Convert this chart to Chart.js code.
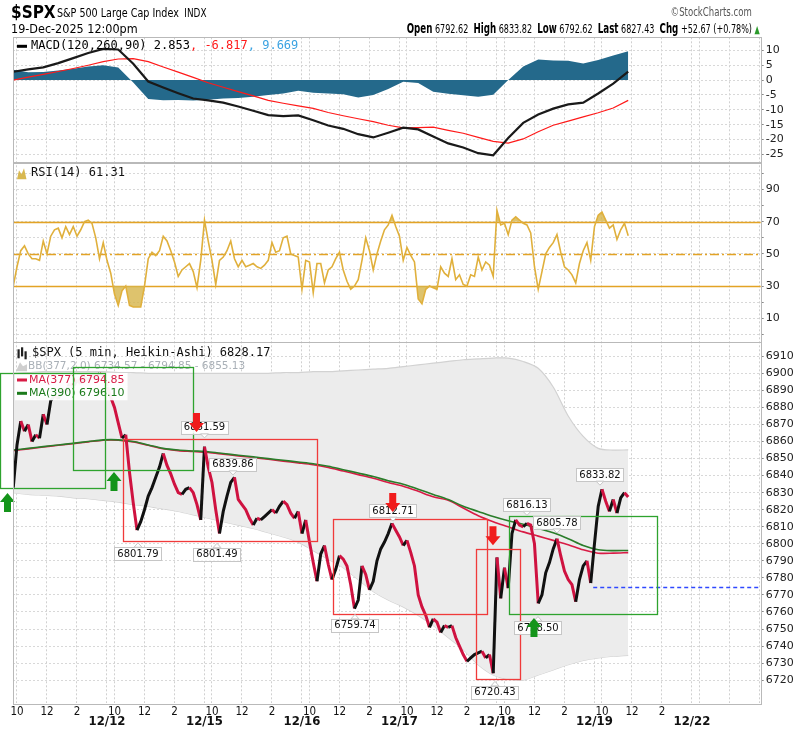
<!DOCTYPE html>
<html lang="en">
<head>
<meta charset="utf-8" />
<title>$SPX 5 min Heikin-Ashi</title>
<script src="https://cdn.jsdelivr.net/npm/chart.js"></script>
<style>
  html, body { margin: 0; padding: 0; background: #fff; }
  .wrap { position: relative; width: 804px; height: 731px; overflow: hidden; }
  #chart { position: absolute; left: 0; top: 0; }
  .head { position: absolute; white-space: nowrap; color: #000;
          font-family: 'Liberation Sans Narrow', 'Arial Narrow', 'DejaVu Sans Condensed', sans-serif; }
  .sym { left: 11px; top: 2px; }
  .sym b { font-size: 17px; margin-right: 3px; }
  .title { left: 57px; top: 5px; font-size: 13px; transform: scaleX(0.82); transform-origin: left center; }
  .title .ex { font-size: 12px; margin-left: 3px; }
  .brand { right: 52px; top: 4px; font-size: 12.5px; color: #555; transform: scaleX(0.76); transform-origin: right center; }
  .stamp { left: 11px; top: 21px; font-size: 13px; transform: scaleX(0.96); transform-origin: left center; }
  .ohlc { right: 44px; top: 20px; font-size: 13px; transform: scaleX(0.69); transform-origin: right center; }
  .ohlc b { font-size: 14px; }
  .ohlc .up { color: #2a9a2a; font-size: 11px; }
</style>
</head>
<body>
<div class="wrap">
  <canvas id="chart" width="804" height="731"></canvas>
  <div class="head sym"><b>$SPX</b></div>
  <div class="head title">S&amp;P 500 Large Cap Index <span class="ex">INDX</span></div>
  <div class="head brand">©StockCharts.com</div>
  <div class="head stamp">19-Dec-2025 12:00pm</div>
  <div class="head ohlc"><b>Open</b> 6792.62 &nbsp;<b>High</b> 6833.82 &nbsp;<b>Low</b> 6792.62 &nbsp;<b>Last</b> 6827.43 &nbsp;<b>Chg</b> +52.67 (+0.78%) <span class="up">▲</span></div>
</div>
<script>
// ---- time axis -------------------------------------------------------
const BARS_PER_DAY = 78;                 // 5-min bars, 09:30 - 16:00
const days = ['12/11', '12/12', '12/15', '12/16', '12/17', '12/18', '12/19', '12/22'];
const hourLabels = ['10', '12', '2'];
const hourMinutesAfterOpen = [30, 150, 270];

// ---- $SPX closes, every 15 min (12/11 starts 09:45, others 09:30) ----
const spx1211 = [6833, 6858, 6872, 6866, 6870, 6860, 6864, 6862, 6876, 6870, 6884, 6887, 6885,
                 6891, 6889, 6894, 6892, 6896, 6894, 6898, 6896, 6899, 6897, 6900, 6898];
const spx1212 = [6893, 6886, 6880, 6871, 6862, 6864, 6842, 6824, 6808, 6813, 6820, 6828, 6833,
                 6839, 6845, 6853, 6846, 6841, 6835, 6830, 6829, 6832, 6833, 6830, 6823, 6814];
const spx1215 = [6857, 6845, 6836, 6820, 6806, 6819, 6828, 6836, 6839, 6826, 6823, 6820, 6815,
                 6811, 6815, 6814, 6816, 6818, 6820, 6818, 6822, 6825, 6823, 6818, 6815, 6819];
const spx1216 = [6806, 6814, 6801, 6789, 6778, 6794, 6799, 6788, 6779, 6785, 6793, 6791, 6787,
                 6776, 6762, 6767, 6787, 6782, 6773, 6778, 6790, 6797, 6801, 6806, 6812, 6808];
const spx1217 = [6804, 6799, 6802, 6795, 6787, 6770, 6763, 6758, 6751, 6756, 6754, 6748, 6752,
                 6751, 6752, 6745, 6740, 6735, 6731, 6733, 6735, 6736, 6737, 6733, 6735, 6724];
const spx1218 = [6792, 6768, 6786, 6774, 6806, 6814, 6811, 6810, 6812, 6811, 6800, 6765, 6770,
                 6783, 6789, 6797, 6803, 6793, 6784, 6779, 6776, 6766, 6779, 6787, 6790, 6777];
const spx1219 = [6800, 6822, 6832, 6825, 6819, 6826, 6818, 6827, 6830, 6827.43];
const spxSessions = [spx1211, spx1212, spx1215, spx1216, spx1217, spx1218, spx1219];
const sessionFirstSlot = [1, 0, 0, 0, 0, 0, 0];

// ---- RSI(14), every 15 min ---------------------------------------------
const rsi1211 = [30, 42, 52, 55, 50, 47, 47, 46, 58, 50, 61, 65, 66, 60, 67, 62, 67, 61, 65, 70, 71, 69, 60, 47, 57];
const rsi1212 = [46, 38, 25, 18, 27, 30, 18, 17, 17, 17, 30, 47, 51, 49, 52, 61, 58, 52, 45, 36, 40, 42, 44, 39, 29, 46];
const rsi1215 = [71, 58, 46, 31, 46, 48, 52, 58, 47, 42, 46, 42, 43, 44, 42, 41, 43, 46, 57, 51, 52, 60, 61, 50, 49, 48];
const rsi1216 = [28, 46, 45, 26, 44, 44, 32, 40, 42, 47, 51, 40, 33, 28, 30, 34, 46, 60, 52, 40, 50, 58, 65, 68, 74, 67];
const rsi1217 = [61, 46, 54, 49, 45, 22, 19, 28, 30, 29, 28, 42, 38, 36, 47, 34, 37, 31, 30, 37, 36, 48, 40, 45, 43, 36];
const rsi1218 = [77, 68, 69, 62, 71, 73, 71, 69, 68, 63, 42, 28, 39, 50, 54, 57, 62, 51, 42, 40, 37, 32, 44, 52, 57, 46];
const rsi1219 = [67, 74, 76, 71, 66, 68, 59, 65, 69, 61.31];
const rsiSessions = [rsi1211, rsi1212, rsi1215, rsi1216, rsi1217, rsi1218, rsi1219];
const rsiLevels = [70, 50, 30];

// ---- hourly indicator samples (from 12/11 09:45, one per trading hour) -
const HOURLY_START_BAR = 3, HOURLY_STEP_BARS = 12;
const macdLine = [2.8, 3.6, 4.3, 5.7, 7.4, 9.1, 10.5, 10.3, 5.5, -0.5, -2.5, -4.4, -6.2, -6.8,
  -7.6, -8.9, -10.3, -11.8, -12.1, -11.9, -13.5, -15.3, -16.4, -18.2, -19.3, -17.7, -16.0, -16.6,
  -19.0, -21.3, -22.7, -24.6, -25.3, -19.5, -14.4, -11.6, -9.6, -8.2, -7.6, -4.5, -1.2, 2.853];
const macdSignal = [0.0, 1.0, 1.9, 2.9, 3.9, 5.0, 6.2, 7.1, 7.2, 6.2, 4.4, 2.7, 0.9, -0.9,
  -2.4, -3.9, -5.3, -6.8, -7.8, -8.7, -9.5, -10.9, -12.0, -13.0, -14.0, -15.2, -16.1, -16.0,
  -15.8, -16.9, -17.9, -19.3, -20.6, -21.2, -19.8, -17.4, -15.2, -13.8, -12.4, -11.0, -9.4, -6.817];
const macdHist = [3.5, 2.6, 2.7, 3.2, 3.8, 4.6, 5.0, 4.2, -0.8, -6.4, -6.8, -6.7, -6.9, -6.6,
  -6.2, -6.0, -5.6, -5.0, -4.5, -3.6, -4.3, -4.5, -4.8, -5.9, -5.0, -3.0, -0.6, -1.0,
  -3.9, -4.6, -5.1, -5.6, -4.9, 0.0, 4.6, 6.9, 6.6, 6.5, 5.6, 6.8, 8.3, 9.669];
const bbUpper = [6900, 6900.5, 6901, 6901, 6901, 6901, 6901, 6900.5, 6900.5, 6900, 6900, 6900, 6900, 6900,
  6900, 6900, 6900, 6900, 6900.5, 6900.5, 6901, 6901, 6901.5, 6902, 6902.5, 6903, 6904, 6905,
  6906, 6907, 6908, 6908.5, 6909, 6909, 6907, 6903, 6892, 6875, 6863, 6856, 6855, 6855.13];
const bbLower = [6830, 6829, 6828.5, 6828, 6827, 6826.5, 6825.5, 6824.5, 6823, 6822, 6820.5, 6819, 6817, 6815,
  6813, 6811, 6809, 6806.5, 6804, 6801, 6796, 6791, 6786, 6779, 6772, 6767, 6763, 6758,
  6752, 6745, 6738, 6729, 6723, 6720.5, 6720, 6723, 6726, 6729, 6731.5, 6733, 6734, 6734.57];
const ma377 = [6854.6, 6855.7, 6856.8, 6857.8, 6858.8, 6859.8, 6860.8, 6860.8, 6859.8, 6857.8, 6855.8, 6854.7, 6854.2, 6853.6,
  6852.6, 6851.6, 6850.6, 6849.6, 6848.5, 6847.5, 6846.4, 6844.8, 6842.7, 6840.6, 6838.5, 6836, 6833.8, 6830.8,
  6827.6, 6825.5, 6821, 6816.5, 6813, 6810, 6807, 6804.5, 6802, 6799.5, 6796.5, 6794.5, 6794.5, 6794.85];
const ma390 = [6855, 6856, 6857, 6858, 6859, 6860, 6861, 6861, 6860, 6858, 6856, 6855, 6854.5, 6854,
  6853, 6852, 6851, 6850, 6849, 6848, 6847, 6845.5, 6843.5, 6841.5, 6839.5, 6837, 6835, 6832,
  6829, 6826, 6822, 6819, 6816, 6813.5, 6811.5, 6809, 6806.5, 6803, 6799, 6796.5, 6796, 6796.1];

// ---- chart annotations (bar index, price) ------------------------------
const greenBoxes = [[-8, 76.4, 6833, 6900.5], [50.8, 146.8, 6843, 6903.7], [399.6, 518.2, 6758.5, 6816.13]];
const redBoxes = [[90.6, 246.2, 6801.79, 6861.59], [259, 382.2, 6758.3, 6814.3], [373.2, 408.4, 6720.43, 6797]];
const buySignals = [[-1.6, 6829.8], [83.6, 6842.1], [419.6, 6756.5]];
const sellSignals = [[149.6, 6865.6], [306.6, 6818.7], [386.8, 6799.1]];
const peakLabels = [[156, 6861.59, 'above'], [178.8, 6839.86, 'above'], [102.8, 6801.79, 'below'],
  [166, 6801.49, 'below'], [306.8, 6812.71, 'above'], [276.4, 6759.74, 'below'], [388.4, 6720.43, 'below'],
  [414, 6816.13, 'above'], [438, 6805.78, 'above'], [422.8, 6758.50, 'below'], [472.4, 6833.82, 'above']];
const prevClose = [467, 6774.76];

// ---- build points ------------------------------------------------------
function sessionPoints(sessions) {
  const pts = [];
  sessions.forEach((vals, d) => {
    vals.forEach((v, i) => pts.push({ x: d * BARS_PER_DAY + (sessionFirstSlot[d] + i) * 3, y: v }));
  });
  return pts;
}
const hourly = (arr) => arr.map((v, k) => ({ x: HOURLY_START_BAR + k * HOURLY_STEP_BARS, y: v }));

const xTicks = [];
const dateTickValues = new Set();
days.forEach((d, i) => {
  const start = i * BARS_PER_DAY;
  xTicks.push({ value: start, label: ['', d] });
  dateTickValues.add(start);
  hourLabels.forEach((h, j) => {
    xTicks.push({ value: start + hourMinutesAfterOpen[j] / 5, label: i < spxSessions.length ? h : '' });
  });
});
const xLabelMap = new Map(xTicks.map(t => [t.value, t.label]));

const X_MIN = 2.8, X_MAX = 601;
const UP = '#111111', DOWN = '#cf1240';
const NARROW = "'Liberation Sans Narrow', 'Arial Narrow', 'DejaVu Sans Condensed', sans-serif";

// ---- drawing helpers ---------------------------------------------------
function arrow(ctx, x, tip, up, color) {
  const s = up ? 1 : -1;
  ctx.fillStyle = color;
  ctx.beginPath();
  ctx.moveTo(x, tip);
  ctx.lineTo(x + 7.5, tip + s * 9);
  ctx.lineTo(x + 3.5, tip + s * 9);
  ctx.lineTo(x + 3.5, tip + s * 19);
  ctx.lineTo(x - 3.5, tip + s * 19);
  ctx.lineTo(x - 3.5, tip + s * 9);
  ctx.lineTo(x - 7.5, tip + s * 9);
  ctx.closePath();
  ctx.fill();
}

function priceTag(ctx, x, y, text, above) {
  ctx.font = "10px 'DejaVu Sans'";
  const w = ctx.measureText(text).width + 6, h = 13;
  const top = above ? y - 5 - h : y + 6.5;
  const edge = above ? top + h : top;
  ctx.fillStyle = 'rgba(255,255,255,0.93)';
  ctx.strokeStyle = '#c6c6c6';
  ctx.lineWidth = 1;
  ctx.fillRect(x - w / 2, top, w, h);
  ctx.strokeRect(Math.round(x - w / 2) + 0.5, Math.round(top) + 0.5, Math.round(w), h);
  ctx.beginPath();
  ctx.moveTo(x - 4, edge);
  ctx.lineTo(x, above ? y - 1 : y + 2);
  ctx.lineTo(x + 4, edge);
  ctx.closePath();
  ctx.fillStyle = '#fff';
  ctx.fill();
  ctx.stroke();
  ctx.fillStyle = '#111';
  ctx.textAlign = 'center';
  ctx.textBaseline = 'middle';
  ctx.fillText(text, x, top + h / 2 + 0.5);
}

function legendParts(ctx, x, y, parts, font) {
  ctx.font = font;
  ctx.textAlign = 'left';
  ctx.textBaseline = 'middle';
  parts.forEach(([t, c]) => { ctx.fillStyle = c; ctx.fillText(t, x, y); x += ctx.measureText(t).width; });
  return x;
}

const overlay = {
  id: 'overlay',
  beforeDatasetsDraw(chart) {
    const { ctx, chartArea: a, scales } = chart;
    ctx.save();
    ctx.strokeStyle = '#e3a325';
    ctx.lineWidth = 1.4;
    rsiLevels.forEach(v => {
      const y = Math.round(scales.yRsi.getPixelForValue(v)) + 0.5;
      ctx.setLineDash(v === 50 ? [9, 3, 2, 3] : []);
      ctx.beginPath(); ctx.moveTo(a.left, y); ctx.lineTo(a.right, y); ctx.stroke();
    });
    ctx.restore();
  },
  afterDatasetsDraw(chart) {
    const { ctx, chartArea: a, scales } = chart;
    const xs = scales.x, yp = scales.yPrice;
    ctx.save();

    // previous close
    ctx.strokeStyle = '#2f48ff';
    ctx.lineWidth = 1.5;
    ctx.setLineDash([4, 3]);
    const pcY = Math.round(yp.getPixelForValue(prevClose[1])) + 0.5;
    ctx.beginPath(); ctx.moveTo(xs.getPixelForValue(prevClose[0]), pcY); ctx.lineTo(a.right, pcY); ctx.stroke();
    ctx.setLineDash([]);

    // panel legends
    const mono = "12px 'DejaVu Sans Mono'";
    let y = scales.yMacd.top + 9;
    ctx.fillStyle = '#000'; ctx.fillRect(17, y - 1.5, 10, 3);
    legendParts(ctx, 31, y, [['MACD(120,260,90) 2.853', '#000'], [', -6.817', '#ff1a1a'], [', 9.669', '#3aa2e2']], mono);

    y = scales.yRsi.top + 10.6;
    ctx.fillStyle = '#d8b850';
    ctx.beginPath();
    ctx.moveTo(17, y + 6); ctx.lineTo(19, y - 3); ctx.lineTo(21.5, y + 1); ctx.lineTo(24, y - 5); ctx.lineTo(26.5, y + 6);
    ctx.closePath(); ctx.fill();
    legendParts(ctx, 31, y, [['RSI(14) 61.31', '#111']], mono);

    y = yp.top + 11.6;
    ctx.fillStyle = '#222';
    [[17.5, -4, 5], [21, -6, 3], [24.5, -2, 6]].forEach(([cx, t, b]) => ctx.fillRect(cx, y + t, 2.2, b - t));
    legendParts(ctx, 32, y, [['$SPX (5 min, Heikin-Ashi) 6828.17', '#111']], mono);

    y = yp.top + 24.5;
    ctx.fillStyle = '#cfcfcf';
    ctx.beginPath();
    ctx.moveTo(16, y + 5); ctx.lineTo(20, y - 4); ctx.lineTo(23, y); ctx.lineTo(27, y - 2); ctx.lineTo(27, y + 5);
    ctx.closePath(); ctx.fill();
    legendParts(ctx, 28, y, [['BB(377,2.0) 6734.57 - 6794.85 - 6855.13', '#a9b0b7']], "10.5px 'DejaVu Sans'");

    [[38.3, 'MA(377) 6794.85', '#d81b45'], [51.6, 'MA(390) 6796.10', '#1b7a1b']].forEach(([dy, t, c]) => {
      const ly = yp.top + dy;
      ctx.font = "11px 'DejaVu Sans'";
      const w = ctx.measureText(t).width;
      ctx.fillStyle = 'rgba(255,255,255,0.95)';
      ctx.fillRect(15, ly - 7, w + 17, 14);
      ctx.fillStyle = c; ctx.fillRect(17, ly - 1.5, 10, 3);
      legendParts(ctx, 29, ly, [[t, c]], "11px 'DejaVu Sans'");
    });

    // pattern boxes
    ctx.lineWidth = 1.3;
    const box = (b, color) => {
      const x0 = xs.getPixelForValue(b[0]), x1 = xs.getPixelForValue(b[1]);
      const y0 = yp.getPixelForValue(b[3]), y1 = yp.getPixelForValue(b[2]);
      ctx.strokeStyle = color;
      ctx.strokeRect(Math.round(x0) + 0.5, Math.round(y0) + 0.5, Math.round(x1 - x0), Math.round(y1 - y0));
    };
    greenBoxes.forEach(b => box(b, '#2ea32e'));
    redBoxes.forEach(b => box(b, '#f03a3a'));

    // price tags
    peakLabels.forEach(([bar, p, pos]) => {
      priceTag(ctx, xs.getPixelForValue(bar), yp.getPixelForValue(p), p.toFixed(2), pos === 'above');
    });

    // signal arrows
    buySignals.forEach(([bar, p]) => arrow(ctx, xs.getPixelForValue(bar), yp.getPixelForValue(p), true, '#14941a'));
    sellSignals.forEach(([bar, p]) => arrow(ctx, xs.getPixelForValue(bar), yp.getPixelForValue(p), false, '#f01c1c'));
    ctx.restore();
  },
  afterDraw(chart) {
    const { ctx, chartArea: a, scales } = chart;
    ctx.save();
    ctx.strokeStyle = '#b9b9b9';
    ctx.lineWidth = 1;
    ['yMacd', 'yRsi', 'yPrice'].forEach(id => {
      const s = scales[id];
      ctx.strokeRect(Math.round(a.left) + 0.5, Math.round(s.top) + 0.5, Math.round(a.right - a.left), Math.round(s.bottom - s.top));
    });
    ctx.restore();
  }
};

// ---- scales ------------------------------------------------------------
const yGrid = { color: '#d8d8d8', drawTicks: true, tickLength: 3, tickColor: '#8a8a8a' };
const yBorder = { display: false, dash: [2, 2] };
const yTicks = { color: '#222', padding: 2, autoSkip: false, font: { family: 'DejaVu Sans', size: 11 } };
const fixWidth = (s) => { s.width = 43.3; };
const keepTicks = (lo, hi) => (s) => { s.ticks = s.ticks.filter(t => t.value >= lo && t.value <= hi); };

new Chart(document.getElementById('chart'), {
  type: 'line',
  data: {
    datasets: [
      { label: 'MACD', data: hourly(macdLine), yAxisID: 'yMacd', borderColor: '#1a1a1a', borderWidth: 2.2, pointRadius: 0, order: 8 },
      { label: 'Signal', data: hourly(macdSignal), yAxisID: 'yMacd', borderColor: '#ff1a1a', borderWidth: 1.2, pointRadius: 0, order: 9 },
      { label: 'Histogram', data: hourly(macdHist), yAxisID: 'yMacd', borderWidth: 0, borderColor: 'rgba(0,0,0,0)',
        backgroundColor: '#24698b', fill: 'origin', pointRadius: 0, order: 12 },
      { label: 'RSI', data: sessionPoints(rsiSessions), yAxisID: 'yRsi', borderColor: '#e0b03c', borderWidth: 1.6, pointRadius: 0,
        fill: { target: { value: 70 }, above: 'rgba(214,180,72,0.8)', below: 'rgba(0,0,0,0)' }, order: 10 },
      { label: 'RSI low', data: sessionPoints(rsiSessions), yAxisID: 'yRsi', borderWidth: 0, borderColor: 'rgba(0,0,0,0)', pointRadius: 0,
        fill: { target: { value: 30 }, above: 'rgba(0,0,0,0)', below: 'rgba(214,180,72,0.8)' }, order: 11 },
      { label: 'BB upper', data: hourly(bbUpper), yAxisID: 'yPrice', borderColor: '#d2d2d2', borderWidth: 1.2, pointRadius: 0,
        backgroundColor: '#ececec', fill: 6, tension: 0.3, order: 20 },
      { label: 'BB lower', data: hourly(bbLower), yAxisID: 'yPrice', borderColor: '#d2d2d2', borderWidth: 1.2, pointRadius: 0,
        tension: 0.3, order: 21 },
      { label: 'MA(377)', data: hourly(ma377), yAxisID: 'yPrice', borderColor: '#d81b45', borderWidth: 1.6, pointRadius: 0, tension: 0.3, order: 6 },
      { label: 'MA(390)', data: hourly(ma390), yAxisID: 'yPrice', borderColor: '#2a7d2a', borderWidth: 1.6, pointRadius: 0, tension: 0.3, order: 5 },
      { label: '$SPX', data: sessionPoints(spxSessions), yAxisID: 'yPrice', borderWidth: 3, pointRadius: 0, order: 3,
        borderColor: UP, segment: { borderColor: c => (c.p1.parsed.y < c.p0.parsed.y ? DOWN : UP) } }
    ]
  },
  options: {
    responsive: false,
    animation: false,
    events: [],
    layout: { padding: { top: 37.3, left: 13, right: 0, bottom: 0 } },
    plugins: { legend: { display: false }, tooltip: { enabled: false } },
    scales: {
      x: {
        type: 'linear', position: 'bottom', min: X_MIN, max: X_MAX,
        afterBuildTicks: (s) => { s.ticks = xTicks.filter(t => t.value >= X_MIN && t.value <= X_MAX)
                                                  .sort((p, q) => p.value - q.value).map(t => ({ value: t.value })); },
        afterFit: (s) => { s.height = 27.7; },
        grid: { color: '#d0d0d0', drawTicks: false },
        border: { display: false, dash: [2, 2] },
        ticks: {
          autoSkip: false, maxRotation: 0, minRotation: 0, padding: 3, color: '#111',
          callback: (v) => xLabelMap.get(v),
          font: (c) => (c.tick && dateTickValues.has(c.tick.value))
            ? { family: NARROW, size: 13, weight: 'bold', lineHeight: 0.79 }
            : { family: NARROW, size: 11.5, lineHeight: 0.94 }
        }
      },
      yMacd: {
        type: 'linear', position: 'right', stack: 'panels', stackWeight: 125.4, min: -27.8, max: 14.4,
        ticks: { ...yTicks, stepSize: 5, includeBounds: false, callback: (v) => String(v) },
        afterBuildTicks: keepTicks(-25, 10), afterFit: fixWidth, grid: yGrid, border: yBorder
      },
      yRsi: {
        type: 'linear', position: 'right', stack: 'panels', stackWeight: 179, min: -4.6, max: 106.7,
        ticks: { ...yTicks, stepSize: 10, includeBounds: false, callback: (v) => (v % 20 === 10 ? String(v) : '') },
        afterBuildTicks: keepTicks(0, 100), afterFit: fixWidth, grid: yGrid, border: yBorder
      },
      yPrice: {
        type: 'linear', position: 'right', stack: 'panels', stackWeight: 361.6, min: 6706.4, max: 6918.6,
        ticks: { ...yTicks, stepSize: 10, includeBounds: false, callback: (v) => String(v) },
        afterBuildTicks: keepTicks(6720, 6910), afterFit: fixWidth, grid: yGrid, border: yBorder
      }
    }
  },
  plugins: [overlay]
});
</script>
</body>
</html>
